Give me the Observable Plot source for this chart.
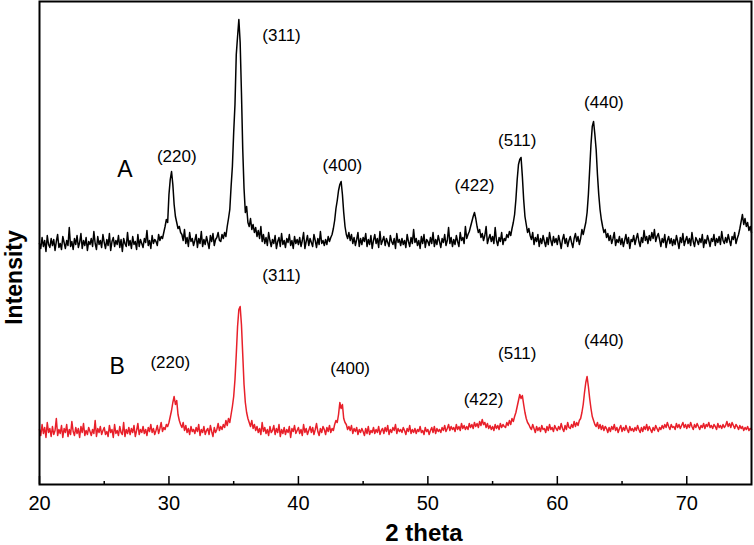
<!DOCTYPE html>
<html><head><meta charset="utf-8">
<script src="https://cdn.jsdelivr.net/npm/d3@7"></script>
<script src="https://cdn.jsdelivr.net/npm/@observablehq/plot@0.6"></script>
<style>body{margin:0;background:#fff}</style>
</head><body><div id="chart"></div>
<script>
// 2-theta sampling: 20.0 to 75.0 in 0.1 steps
const thetaStart = 20;
const thetaStep = 0.1;

// Pattern A (offset upward), intensity a.u.
const seriesA = [
241,236,247,238,244,233,249,240,237,246,
239,245,234,243,250,237,241,235,248,242,
236,244,239,257,238,243,235,246,240,249,
237,242,251,236,244,239,247,234,243,240,
246,238,253,241,235,248,240,244,237,250,
242,236,245,239,251,234,243,247,238,244,
240,249,237,245,233,246,241,238,252,239,
244,236,248,240,243,235,250,238,245,241,
237,246,242,254,239,244,236,249,241,245,
243,239,250,244,248,246,252,258,265,262,
290,305,313,300,280,268,262,256,258,252,
250,244,255,241,247,238,252,243,246,239,
244,250,237,246,241,253,238,245,240,248,
242,236,249,243,251,239,245,247,252,244,
243,250,246,252,248,258,266,275,298,318,
352,380,430,448,465,442,392,335,296,272,
278,262,258,266,255,260,252,257,248,254,
246,258,243,250,241,247,239,252,244,238,
245,241,249,236,243,247,238,251,240,244,
237,246,242,250,239,244,236,248,241,245,
240,247,238,244,252,236,243,249,239,246,
242,238,250,244,237,246,240,253,241,244,
239,245,240,248,243,247,250,256,264,276,
284,294,300,303,290,272,258,250,246,252,
244,250,241,247,239,245,252,238,246,240,
247,243,251,238,245,240,249,236,244,250,
241,246,237,253,240,244,248,239,246,242,
238,249,243,240,246,236,251,242,245,239,
246,240,244,237,250,243,238,247,241,255,
242,246,239,244,236,248,241,250,237,245,
243,239,247,241,252,238,245,240,249,243,
237,246,242,250,239,244,257,241,247,238,
245,240,249,243,238,252,244,247,241,258,
246,250,253,258,263,268,272,266,258,252,
255,247,251,244,249,258,241,246,250,243,
248,241,257,244,239,247,243,252,240,246,
244,250,247,253,249,256,262,270,285,305,
320,325,327,308,285,268,260,252,256,249,
245,252,240,247,243,250,238,246,241,249,
243,238,247,240,252,244,239,248,242,246,
240,249,243,236,245,250,241,246,238,244,
248,242,237,246,251,243,248,240,246,255,
250,256,262,272,290,315,340,358,363,350,
335,310,290,275,265,258,252,255,247,251,
244,249,241,246,252,239,245,242,248,240,
246,238,244,250,241,247,236,245,243,249,
240,246,251,243,238,247,242,254,244,248,
241,249,244,252,246,255,243,248,251,245,
238,246,242,250,237,244,248,241,246,239,
245,240,249,243,236,247,242,251,239,244,
248,241,246,239,252,243,238,247,244,240,
246,242,250,237,245,241,249,244,238,246,
243,250,239,246,242,248,240,253,244,241,
247,242,250,244,239,248,245,252,241,246,
250,256,263,270,260,266,258,262,254,258,
252
];

// Pattern B, intensity a.u.
const seriesB = [
55,49,60,51,57,47,62,52,56,48,
58,50,54,66,49,55,51,59,47,56,
52,60,48,55,50,63,53,49,57,51,
56,47,58,52,61,49,54,50,57,53,
49,55,51,64,48,56,52,58,50,54,
57,50,53,48,59,52,55,47,60,51,
54,49,58,52,50,62,48,55,51,57,
50,56,52,59,48,54,61,50,55,52,
58,51,55,49,57,53,60,52,56,50,
54,59,51,56,62,53,57,55,60,58,
62,68,74,82,88,80,84,70,64,60,
57,62,54,59,52,56,50,58,53,55,
51,57,53,60,49,55,52,58,50,54,
56,50,59,53,48,57,52,55,61,54,
58,55,60,57,64,59,66,62,70,78,
88,105,130,158,175,178,160,130,100,82,
72,66,62,58,64,56,60,54,58,52,
56,50,62,53,57,51,55,49,58,52,
54,59,50,56,52,60,48,55,51,57,
50,55,52,58,47,56,53,59,51,54,
57,51,55,49,60,52,56,50,54,58,
52,57,50,55,61,53,49,56,52,58,
55,50,57,53,59,52,56,54,60,64,
62,70,82,76,80,66,62,60,55,58,
54,59,51,56,53,57,50,55,52,56,
53,49,56,51,58,50,54,52,57,51,
55,52,58,50,54,56,51,57,53,59,
50,55,52,57,54,60,51,56,53,55,
52,57,54,50,56,53,59,51,55,52,
56,51,55,53,58,52,54,50,57,53,
55,50,54,57,52,58,51,56,53,55,
52,57,54,59,53,56,60,54,58,55,
57,53,60,55,58,54,61,56,59,55,
58,55,61,57,60,56,62,58,61,57,
63,59,65,60,62,57,61,56,59,55,
58,54,60,56,59,55,61,57,60,58,
57,62,59,64,60,66,63,68,72,78,
84,90,86,89,80,72,66,62,60,57,
55,60,56,52,58,54,57,53,59,55,
56,52,58,54,60,55,57,53,59,56,
54,58,55,61,56,53,59,55,62,57,
56,60,57,63,58,62,59,64,66,72,
80,92,102,108,98,86,76,68,64,60,
58,62,56,60,55,59,54,58,56,52,
57,53,58,55,60,54,57,52,56,59,
53,57,54,59,55,52,58,54,56,53,
57,54,59,55,52,57,53,58,55,60,
54,58,55,52,57,54,59,56,53,57,
55,59,56,60,57,62,58,55,60,57,
58,55,61,57,60,56,59,62,57,60,
56,60,57,62,58,55,60,57,61,58,
55,59,57,61,56,60,58,62,57,59,
56,60,58,55,61,57,59,56,60,57,
59,63,58,61,57,62,59,56,60,58,
55,59,56,58,54,57,55,58,54,56,
55
];

// Peak (hkl) annotations: label, 2-theta, intensity
const peakLabelText = ["(220)","(311)","(400)","(422)","(511)","(440)"];
const peakLabelXA = [30.6, 38.7, 43.4, 53.6, 56.9, 63.6];
const peakLabelYA = [328, 449, 319, 299, 344, 382];
const peakLabelXB = [30.1, 38.7, 44.0, 54.3, 56.9, 63.6];
const peakLabelYB = [122, 209, 116, 85, 131, 144];

// Sample names
const sampleNames = ["A", "B"];
const sampleX = [26.6, 26.0];
const sampleY = [315, 118];

// Axis ticks
const majorTicks = [20, 30, 40, 50, 60, 70];
const minorTicks = [25, 35, 45, 55, 65];

const xAxisTitle = "2 theta";
const yAxisTitle = "Intensity";

// Build tables
const dataA = seriesA.map((v, i) => ({t: thetaStart + i * thetaStep, v}));
const dataB = seriesB.map((v, i) => ({t: thetaStart + i * thetaStep, v}));
const labelsA = peakLabelText.map((s, i) => ({s, x: peakLabelXA[i], y: peakLabelYA[i]}));
const labelsB = peakLabelText.map((s, i) => ({s, x: peakLabelXB[i], y: peakLabelYB[i]}));
const names = sampleNames.map((s, i) => ({s, x: sampleX[i], y: sampleY[i]}));

const font = "'Liberation Sans', Arial, Helvetica, sans-serif";

const chart = Plot.plot({
  width: 754,
  height: 545,
  marginLeft: 39,
  marginRight: 3,
  marginTop: 1,
  marginBottom: 61,
  style: {fontFamily: font, background: "#fff", color: "#000"},
  x: {domain: [20, 75]},
  y: {domain: [0, 483], axis: null},
  marks: [
    Plot.line(dataB, {x: "t", y: "v", stroke: "#e8202a", strokeWidth: 1.5}),
    Plot.line(dataA, {x: "t", y: "v", stroke: "#000", strokeWidth: 1.5}),
    Plot.ruleX(majorTicks, {x: d => d, y1: 0, y2: 8, stroke: "#000", strokeWidth: 1.5}),
    Plot.ruleX(minorTicks, {x: d => d, y1: 0, y2: 3, stroke: "#000", strokeWidth: 1.5}),
    Plot.axisX({ticks: majorTicks, tickSize: 0, tickPadding: 11, fontSize: 20, label: null, tickFormat: d => String(d)}),
    Plot.frame({stroke: "#000", strokeWidth: 2}),
    Plot.text(labelsA, {x: "x", y: "y", text: "s", fontSize: 17, fill: "#000"}),
    Plot.text(labelsB, {x: "x", y: "y", text: "s", fontSize: 17, fill: "#000"}),
    Plot.text(names, {x: "x", y: "y", text: "s", fontSize: 23, fill: "#000"}),
    Plot.text([xAxisTitle], {x: 49.7, frameAnchor: "bottom", dy: 49, lineAnchor: "middle", fontSize: 24, fontWeight: "bold", fill: "#000"}),
    Plot.text([yAxisTitle], {y: 207, frameAnchor: "left", dx: -25, rotate: -90, textAnchor: "middle", lineAnchor: "middle", fontSize: 23, fontWeight: "bold", fill: "#000"})
  ]
});
document.getElementById("chart").appendChild(chart);
</script>
</body></html>
